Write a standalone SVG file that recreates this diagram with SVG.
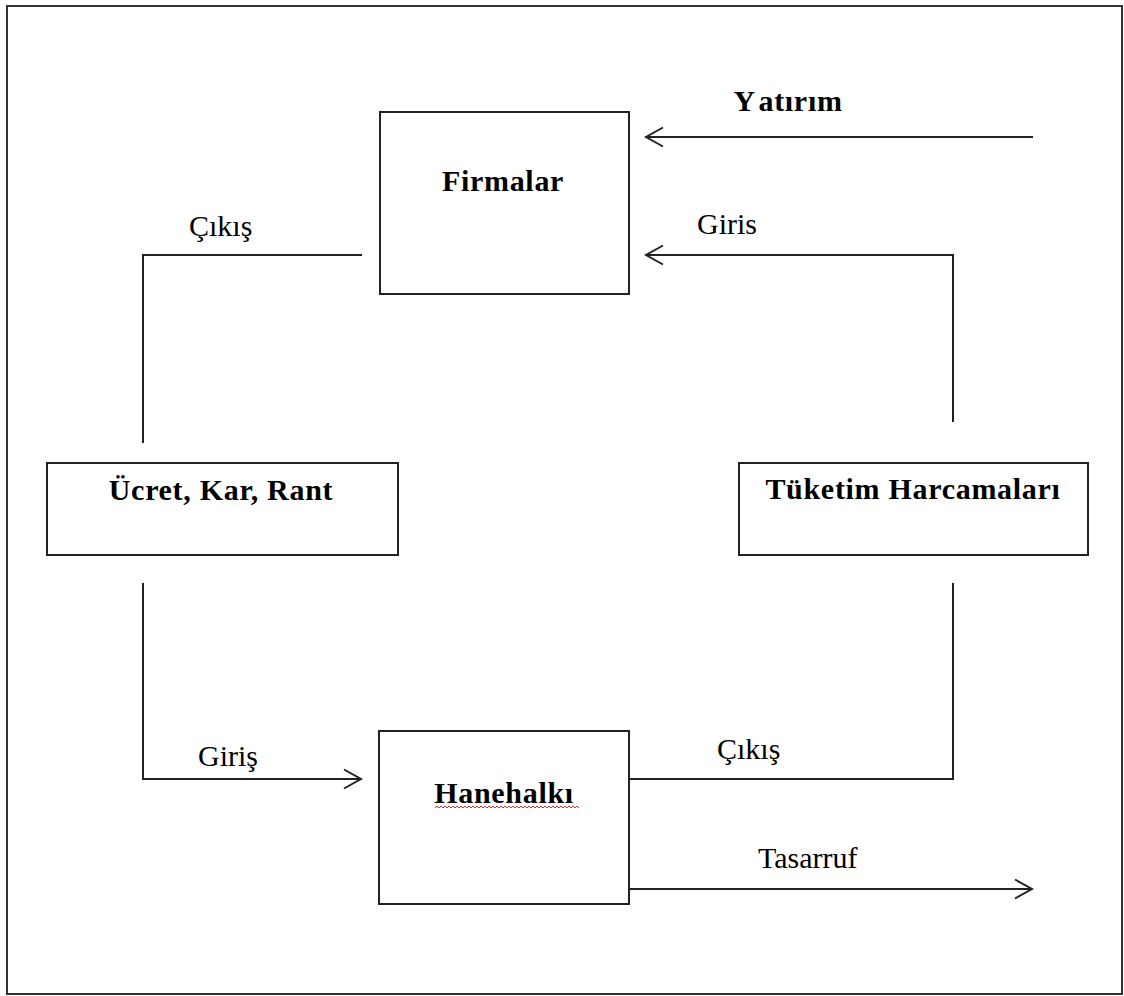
<svg xmlns="http://www.w3.org/2000/svg" width="1124" height="996" viewBox="0 0 1124 996">
<style>
.frame{fill:#fff;stroke:#333;stroke-width:2}
.box{fill:#fff;stroke:#222;stroke-width:2}
.ln{fill:none;stroke:#222;stroke-width:2}
.b{font-family:"Liberation Serif","Times New Roman",serif;font-weight:bold;font-size:30px;fill:#000;text-anchor:middle;letter-spacing:0.7px}
.r{font-family:"Liberation Serif","Times New Roman",serif;font-size:30px;fill:#000}
</style>
<defs>
<marker id="ah" markerUnits="userSpaceOnUse" markerWidth="40" markerHeight="40" viewBox="-20 -20 40 40" refX="0" refY="0" orient="auto">
<path d="M-17,-9.5 L0,0 L-17,9.5" fill="none" stroke="#222" stroke-width="2"/>
</marker>
</defs>
<rect class="frame" x="7" y="6" width="1115" height="988"/>
<g id="connectors">
<path class="ln" d="M1033,137 L646,137" marker-end="url(#ah)"/>
<path class="ln" d="M362,255 L143,255 L143,443"/>
<path class="ln" d="M953,422 L953,255 L646,255" marker-end="url(#ah)"/>
<path class="ln" d="M143,583 L143,779 L361,779" marker-end="url(#ah)"/>
<path class="ln" d="M629,779 L953,779 L953,583"/>
<path class="ln" d="M629,889 L1032,889" marker-end="url(#ah)"/>
<text class="b" x="788" y="111">Y<tspan dx="6">atırım</tspan></text>
<text class="r" x="189" y="236">Çıkış</text>
<text class="r" x="697" y="234">Giris</text>
<text class="r" x="198" y="766">Giriş</text>
<text class="r" x="717" y="759">Çıkış</text>
<text class="r" x="758" y="868">Tasarruf</text>
</g>
<g id="firmalar">
<rect class="box" x="380" y="112" width="249" height="182"/>
<text class="b" x="503" y="191">Firmalar</text>
</g>
<g id="ucret">
<rect class="box" x="47" y="463" width="351" height="92"/>
<text class="b" x="221" y="500">Ücret, Kar, Rant</text>
</g>
<g id="tuketim">
<rect class="box" x="739" y="463" width="349" height="92"/>
<text class="b" x="913" y="499">Tüketim Harcamaları</text>
</g>
<g id="hanehalki">
<rect class="box" x="379" y="731" width="250" height="173"/>
<text class="b" x="504" y="803">Hanehalkı</text>
<path d="M435,808 l2,-2 l2,2 l2,-2 l2,2 l2,-2 l2,2 l2,-2 l2,2 l2,-2 l2,2 l2,-2 l2,2 l2,-2 l2,2 l2,-2 l2,2 l2,-2 l2,2 l2,-2 l2,2 l2,-2 l2,2 l2,-2 l2,2 l2,-2 l2,2 l2,-2 l2,2 l2,-2 l2,2 l2,-2 l2,2 l2,-2 l2,2 l2,-2 l2,2 l2,-2 l2,2 l2,-2 l2,2 l2,-2 l2,2 l2,-2 l2,2 l2,-2 l2,2 l2,-2 l2,2 l2,-2 l2,2 l2,-2 l2,2 l2,-2 l2,2 l2,-2 l2,2 l2,-2 l2,2 l2,-2 l2,2 l2,-2 l2,2 l2,-2 l2,2 l2,-2 l2,2 l2,-2 l2,2 l2,-2 l2,2 l2,-2 l2,2" fill="none" stroke="#e03030" stroke-width="1"/>
</g>
</svg>
